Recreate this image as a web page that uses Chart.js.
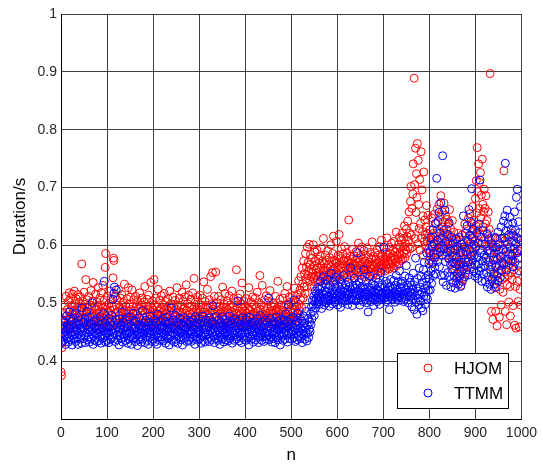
<!DOCTYPE html>
<html>
<head>
<meta charset="utf-8">
<script src="https://cdn.jsdelivr.net/npm/chart.js@4/dist/chart.umd.min.js"></script>
<style>
  html, body { margin: 0; padding: 0; background: #fff; }
  #wrap { width: 543px; height: 466px; }
</style>
</head>
<body>
<div id="wrap"><canvas id="c" width="543" height="466"></canvas></div>
<script>
// Run duration per sample n, two methods
const hjom = [
.381,.375,.423,.432,.451,.468,.482,.459,.497,.471,.446,.512,.478,.463,.489,.455,.503,.471,.518,.486,
.474,.509,.462,.495,.481,.516,.457,.488,.472,.521,.499,.466,.484,.508,.453,.492,.477,.515,.469,.501,
.486,.463,.511,.479,.494,.568,.472,.458,.503,.487,.519,.466,.498,.476,.541,.483,.462,.506,.491,.474,
.512,.468,.485,.497,.459,.522,.478,.491,.463,.504,.536,.481,.469,.495,.477,.516,.458,.489,.502,.473,
.494,.527,.466,.483,.509,.471,.497,.455,.518,.486,.475,.531,.492,.467,.505,.483,.562,.586,.477,.496,
.468,.513,.485,.459,.499,.474,.521,.488,.462,.507,.481,.495,.472,.544,.578,.574,.489,.466,.512,.483,
.497,.471,.506,.463,.486,.524,.478,.492,.455,.509,.482,.468,.515,.491,.474,.501,.459,.487,.533,.476,
.463,.495,.482,.508,.471,.459,.527,.486,.473,.499,.466,.511,.489,.477,.523,.461,.494,.482,.506,.469,
.487,.473,.512,.458,.496,.481,.468,.503,.475,.491,.462,.518,.484,.471,.497,.456,.509,.479,.488,.466,
.502,.474,.529,.483,.461,.495,.477,.507,.468,.489,.514,.472,.458,.496,.481,.536,.469,.492,.476,.504,
.463,.488,.541,.475,.497,.467,.509,.482,.459,.493,.478,.524,.471,.486,.505,.462,.491,.479,.513,.468,
.484,.472,.498,.461,.517,.489,.475,.503,.466,.491,.482,.455,.508,.477,.494,.469,.521,.486,.463,.499,
.474,.492,.467,.511,.483,.458,.496,.478,.505,.471,.489,.463,.527,.482,.497,.474,.466,.509,.485,.472,
.496,.461,.484,.519,.477,.503,.468,.491,.456,.511,.483,.474,.532,.488,.465,.499,.479,.514,.462,.493,
.481,.469,.507,.476,.495,.462,.518,.485,.471,.543,.493,.467,.502,.478,.489,.459,.511,.483,.474,.497,
.466,.488,.514,.473,.497,.481,.462,.509,.476,.491,.537,.468,.485,.503,.472,.458,.496,.481,.524,.469,
.492,.477,.506,.464,.483,.546,.471,.498,.486,.553,.467,.489,.475,.512,.481,.462,.554,.494,.478,.501,
.469,.487,.512,.474,.459,.495,.482,.506,.467,.491,.478,.528,.463,.486,.499,.472,.517,.484,.461,.493,
.476,.504,.468,.489,.457,.513,.482,.471,.497,.465,.486,.521,.474,.493,.461,.508,.479,.488,.466,.502,
.483,.558,.471,.494,.465,.509,.478,.487,.462,.516,.481,.473,.499,.535,.468,.491,.477,.504,.463,.486,
.472,.495,.461,.508,.483,.469,.491,.476,.527,.464,.488,.479,.502,.467,.493,.458,.511,.481,.473,.497,
.466,.484,.509,.471,.492,.463,.519,.478,.486,.468,.501,.475,.548,.489,.462,.497,.473,.531,.481,.467,
.494,.476,.506,.462,.487,.479,.513,.468,.492,.474,.459,.503,.483,.471,.522,.486,.465,.495,.477,.488,
.469,.501,.481,.463,.496,.474,.512,.486,.467,.491,.478,.538,.465,.489,.473,.507,.482,.461,.497,.476,
.488,.468,.509,.479,.493,.464,.517,.482,.471,.498,.476,.529,.486,.462,.494,.478,.511,.469,.487,.502,
.474,.491,.466,.512,.483,.497,.471,.526,.488,.479,.503,.468,.494,.482,.515,.476,.539,.498,.487,.523,
.507,.546,.518,.492,.561,.534,.509,.573,.528,.551,.517,.586,.542,.563,.529,.597,.548,.571,.556,.602,
.538,.567,.584,.546,.559,.529,.578,.552,.601,.543,.565,.589,.537,.573,.558,.547,.592,.561,.541,.576,
.553,.569,.538,.582,.547,.561,.596,.544,.573,.556,.612,.549,.568,.539,.583,.557,.546,.574,.561,.591,
.548,.567,.552,.579,.541,.563,.601,.556,.572,.544,.586,.559,.616,.551,.574,.562,.538,.569,.607,.553,
.571,.546,.583,.558,.619,.566,.549,.577,.562,.594,.541,.568,.585,.555,.573,.548,.598,.564,.552,.579,
.561,.587,.546,.572,.558,.644,.569,.553,.581,.563,.547,.576,.559,.593,.566,.551,.582,.568,.544,.574,
.557,.589,.565,.548,.578,.561,.604,.553,.571,.566,.549,.583,.558,.597,.567,.552,.576,.562,.591,.546,
.573,.559,.582,.564,.551,.596,.568,.557,.579,.545,.571,.563,.588,.554,.577,.561,.606,.566,.549,.581,
.564,.553,.587,.569,.576,.558,.592,.567,.549,.583,.571,.561,.598,.556,.574,.566,.609,.559,.581,.568,
.577,.562,.594,.571,.556,.588,.566,.579,.613,.561,.583,.572,.559,.597,.568,.586,.575,.563,.604,.579,
.569,.591,.582,.561,.607,.576,.588,.571,.623,.565,.594,.583,.577,.601,.568,.614,.586,.597,.574,.609,
.583,.621,.576,.598,.612,.587,.634,.579,.603,.592,.628,.586,.615,.642,.597,.609,.658,.621,.594,.676,
.702,.618,.664,.597,.689,.741,.632,.889,.705,.612,.768,.657,.724,.683,.776,.603,.747,.671,.629,.714,
.592,.638,.762,.613,.696,.624,.651,.583,.727,.607,.644,.618,.598,.632,.669,.607,.621,.652,.593,.613,
.574,.627,.591,.606,.583,.648,.612,.569,.598,.621,.587,.654,.601,.579,.617,.638,.592,.663,.608,.586,
.624,.671,.603,.649,.612,.686,.594,.632,.658,.617,.641,.597,.673,.621,.604,.652,.582,.628,.611,.645,
.596,.637,.619,.578,.662,.603,.629,.587,.614,.571,.643,.596,.558,.623,.582,.607,.564,.591,.534,.612,
.572,.598,.551,.621,.583,.544,.609,.568,.592,.531,.576,.618,.559,.587,.543,.604,.566,.637,.578,.552,
.596,.628,.563,.611,.584,.647,.572,.603,.655,.589,.617,.563,.638,.598,.667,.612,.589,.643,.626,.608,
.681,.634,.712,.656,.769,.693,.627,.741,.664,.709,.619,.726,.648,.687,.603,.749,.671,.632,.658,.697,
.612,.664,.637,.686,.598,.643,.621,.574,.658,.609,.628,.592,.897,.563,.612,.486,.541,.603,.472,.579,
.548,.596,.527,.613,.486,.564,.579,.461,.538,.601,.553,.587,.476,.524,.612,.558,.497,.573,.541,.592,
.519,.567,.729,.545,.608,.486,.554,.576,.463,.532,.594,.548,.614,.502,.567,.529,.478,.586,.553,.621,
.541,.573,.496,.608,.558,.462,.587,.529,.457,.614,.552,.538,.591,.503,.566,.459,.578,.524,.497,.603
];

const ttmm = [
.441,.462,.433,.457,.448,.471,.436,.455,.444,.467,.429,.452,.478,.439,.461,.447,.433,.458,.485,.442,
.456,.437,.469,.445,.428,.463,.451,.474,.438,.459,.446,.482,.434,.455,.467,.441,.452,.429,.476,.448,
.463,.438,.457,.471,.444,.431,.492,.453,.467,.439,.458,.445,.473,.432,.461,.449,.486,.437,.455,.466,
.442,.459,.433,.476,.451,.438,.464,.447,.501,.455,.429,.469,.443,.458,.436,.472,.449,.461,.434,.455,
.447,.468,.435,.456,.442,.477,.451,.431,.463,.446,.458,.439,.482,.452,.538,.444,.466,.433,.459,.448,
.436,.461,.449,.474,.432,.457,.445,.468,.438,.453,.479,.441,.462,.507,.448,.517,.528,.434,.456,.472,
.523,.445,.459,.437,.466,.451,.428,.473,.444,.457,.439,.462,.448,.485,.433,.454,.467,.441,.458,.446,
.452,.436,.471,.447,.459,.431,.464,.449,.438,.476,.453,.442,.461,.429,.457,.446,.483,.439,.455,.468,
.441,.458,.434,.469,.452,.445,.427,.463,.448,.437,.474,.455,.442,.461,.433,.456,.449,.487,.438,.459,
.447,.466,.432,.454,.471,.443,.458,.436,.462,.449,.429,.467,.452,.441,.478,.446,.457,.434,.463,.451,
.438,.459,.447,.472,.433,.456,.444,.466,.429,.452,.481,.441,.463,.448,.436,.469,.455,.442,.458,.437,
.461,.449,.474,.435,.457,.446,.468,.431,.453,.442,.476,.458,.439,.464,.451,.428,.467,.445,.456,.492,
.443,.458,.436,.471,.449,.462,.433,.455,.447,.479,.438,.457,.444,.466,.431,.452,.463,.441,.474,.448,
.456,.437,.465,.449,.428,.461,.446,.475,.439,.453,.467,.442,.458,.434,.471,.447,.459,.436,.464,.451,
.441,.468,.453,.434,.459,.447,.472,.438,.456,.444,.463,.429,.477,.451,.442,.466,.437,.458,.449,.473,
.452,.439,.464,.446,.431,.469,.455,.443,.478,.436,.457,.448,.462,.433,.454,.471,.445,.459,.438,.466,
.447,.461,.434,.475,.452,.441,.458,.437,.468,.449,.496,.443,.456,.432,.464,.451,.477,.439,.458,.445,
.463,.436,.454,.471,.448,.429,.459,.442,.467,.453,.438,.476,.446,.461,.433,.457,.449,.472,.437,.455,
.444,.466,.451,.435,.462,.447,.478,.439,.456,.443,.469,.452,.431,.464,.448,.458,.436,.473,.445,.461,
.453,.438,.467,.449,.504,.442,.458,.435,.471,.451,.446,.463,.432,.457,.448,.475,.441,.459,.437,.466,
.449,.461,.436,.472,.454,.441,.463,.447,.428,.459,.476,.443,.455,.438,.467,.451,.444,.462,.433,.457,
.446,.468,.452,.437,.461,.449,.474,.441,.456,.432,.465,.453,.443,.479,.448,.459,.436,.467,.451,.442,
.458,.434,.463,.449,.471,.443,.456,.438,.467,.452,.446,.509,.437,.461,.448,.474,.441,.457,.433,.464,
.451,.439,.468,.447,.457,.432,.463,.449,.476,.441,.455,.437,.469,.453,.444,.461,.428,.458,.472,.446,
.443,.462,.436,.457,.449,.471,.438,.464,.452,.481,.445,.459,.433,.467,.497,.448,.456,.439,.473,.451,
.447,.464,.438,.459,.452,.476,.441,.506,.457,.434,.469,.448,.462,.437,.455,.483,.443,.466,.451,.474,
.439,.458,.447,.469,.432,.461,.452,.478,.444,.466,.438,.457,.449,.486,.435,.462,.448,.473,.441,.455,
.467,.451,.482,.463,.494,.473,.505,.486,.497,.512,.479,.503,.521,.492,.508,.517,.499,.527,.511,.503,
.516,.498,.524,.509,.538,.512,.491,.529,.517,.503,.546,.514,.497,.522,.508,.533,.501,.519,.541,.511,
.504,.526,.513,.495,.531,.518,.507,.552,.514,.499,.523,.509,.537,.516,.502,.528,.511,.545,.506,.521,
.513,.497,.529,.518,.505,.541,.512,.493,.524,.515,.508,.533,.501,.519,.548,.511,.526,.504,.517,.532,
.509,.522,.514,.498,.537,.516,.505,.529,.518,.561,.507,.523,.512,.496,.531,.517,.506,.543,.513,.526,
.519,.504,.532,.515,.587,.521,.508,.536,.513,.497,.527,.518,.506,.542,.514,.529,.503,.519,.558,.511,
.524,.507,.516,.538,.501,.519,.513,.485,.528,.509,.522,.547,.511,.503,.526,.517,.534,.508,.521,.496,
.513,.531,.506,.519,.543,.511,.524,.503,.517,.536,.509,.521,.498,.528,.515,.553,.507,.519,.532,.512,
.518,.597,.509,.527,.514,.538,.503,.521,.511,.534,.506,.523,.517,.489,.529,.512,.541,.508,.524,.515,
.507,.526,.518,.539,.511,.502,.531,.515,.548,.509,.522,.513,.537,.505,.519,.556,.511,.527,.516,.534,
.521,.509,.538,.516,.503,.529,.514,.547,.508,.523,.565,.511,.532,.518,.501,.527,.544,.513,.536,.519,
.512,.531,.494,.524,.508,.552,.517,.489,.537,.513,.578,.502,.526,.481,.543,.509,.521,.497,.561,.515,
.528,.504,.547,.492,.519,.536,.487,.558,.513,.571,.526,.498,.543,.512,.587,.531,.507,.549,.522,.569,
.542,.587,.523,.613,.556,.534,.598,.571,.627,.548,.603,.579,.562,.638,.551,.584,.716,.609,.572,.641,
.596,.657,.563,.621,.589,.674,.548,.612,.583,.755,.537,.626,.594,.548,.661,.572,.607,.531,.588,.619,
.553,.602,.577,.639,.546,.591,.567,.528,.614,.559,.583,.536,.604,.571,.547,.592,.526,.568,.611,.543,
.579,.552,.598,.533,.566,.614,.547,.587,.529,.571,.556,.602,.538,.584,.651,.563,.597,.546,.621,.572,
.589,.558,.634,.571,.607,.549,.662,.593,.618,.567,.641,.582,.698,.613,.574,.628,.556,.602,.583,.547,
.566,.598,.552,.621,.579,.543,.604,.568,.637,.556,.713,.587,.561,.614,.538,.592,.573,.626,.551,.583,
.564,.602,.537,.578,.553,.619,.528,.591,.546,.571,.612,.533,.587,.558,.524,.603,.566,.542,.597,.575,
.551,.586,.533,.614,.562,.528,.597,.548,.577,.623,.539,.592,.565,.603,.544,.581,.632,.557,.612,.571,
.594,.642,.567,.613,.651,.742,.589,.626,.558,.661,.603,.637,.576,.618,.584,.649,.597,.573,.628,.607,
.582,.639,.563,.617,.594,.658,.571,.626,.603,.683,.587,.697,.612,.578,.641,.556,.622,.593,.667,.609
];

const seriesNames = ['HJOM', 'TTMM'];
const seriesColors = ['#ff0000', '#0000ff'];
const xTicks = [0, 100, 200, 300, 400, 500, 600, 700, 800, 900, 1000];
const yTicks = [0.4, 0.5, 0.6, 0.7, 0.8, 0.9, 1];

const FONT = '"Liberation Sans", Arial, Helvetica, sans-serif';
const TEXT = '#262626';

function toPoints(values) {
  return values.map((v, i) => ({ x: i, y: v }));
}

// Boxed legend drawn inside the lower-right corner of the plot area
const boxLegend = {
  id: 'boxLegend',
  afterDraw(chart) {
    const ctx = chart.ctx;
    const x0 = 397, y0 = 353, w = 111, h = 55;
    ctx.save();
    ctx.fillStyle = '#ffffff';
    ctx.fillRect(x0, y0, w, h);
    ctx.strokeStyle = '#000';
    ctx.lineWidth = 1;
    ctx.strokeRect(x0 + 0.5, y0 + 0.5, w, h);
    chart.data.datasets.forEach((ds, i) => {
      const cy = y0 + 15 + i * 25;
      ctx.beginPath();
      ctx.arc(x0 + 31, cy, 4, 0, Math.PI * 2);
      ctx.strokeStyle = ds.borderColor;
      ctx.lineWidth = 1;
      ctx.stroke();
      ctx.fillStyle = '#000';
      ctx.font = '17px ' + FONT;
      ctx.textBaseline = 'middle';
      ctx.textAlign = 'left';
      ctx.fillText(ds.label, x0 + 57, cy + 1);
    });
    ctx.restore();
  }
};

new Chart(document.getElementById('c'), {
  type: 'scatter',
  data: {
    datasets: [
      {
        label: seriesNames[0],
        data: toPoints(hjom),
        borderColor: seriesColors[0],
        backgroundColor: 'rgba(0,0,0,0)',
        pointRadius: 4,
        pointBorderWidth: 1,
        order: 1
      },
      {
        label: seriesNames[1],
        data: toPoints(ttmm),
        borderColor: seriesColors[1],
        backgroundColor: 'rgba(0,0,0,0)',
        pointRadius: 4,
        pointBorderWidth: 1,
        order: 0
      }
    ]
  },
  options: {
    responsive: false,
    devicePixelRatio: 1,
    animation: false,
    events: [],
    layout: { padding: { top: 14, right: 14, left: 0, bottom: 0 } },
    plugins: {
      legend: { display: false },
      tooltip: { enabled: false }
    },
    scales: {
      x: {
        type: 'linear',
        min: 0,
        max: 1000,
        afterFit(scale) { scale.height = 47; },
        afterBuildTicks(scale) { scale.ticks = xTicks.map(v => ({ value: v })); },
        ticks: {
          padding: 6,
          color: TEXT,
          font: { family: FONT, size: 14 },
          maxRotation: 0,
          callback(v) { return String(v); }
        },
        grid: { color: 'rgba(0,0,0,0.75)', lineWidth: 1, drawTicks: false },
        border: { display: true, color: '#000', width: 1 },
        title: {
          display: true,
          text: 'n',
          color: '#000',
          font: { family: FONT, size: 17 },
          padding: { top: 0, bottom: 0 }
        }
      },
      y: {
        type: 'linear',
        min: 0.3,
        max: 1,
        afterFit(scale) { scale.width = 61; },
        afterBuildTicks(scale) {
          scale.ticks = [{ value: 0.3 }].concat(yTicks.map(v => ({ value: v })));
        },
        ticks: {
          padding: 4,
          color: TEXT,
          font: { family: FONT, size: 14 },
          callback(v) {
            if (Math.abs(v - 0.3) < 1e-9) return '';
            return Math.abs(v - 1) < 1e-9 ? '1' : v.toFixed(1);
          }
        },
        grid: { color: 'rgba(0,0,0,0.75)', lineWidth: 1, drawTicks: false },
        border: { display: true, color: '#000', width: 1 },
        title: {
          display: true,
          text: 'Duration/s',
          color: '#000',
          font: { family: FONT, size: 17 },
          padding: { top: 10, bottom: 0 }
        }
      }
    }
  },
  plugins: [boxLegend]
});
</script>
</body>
</html>
